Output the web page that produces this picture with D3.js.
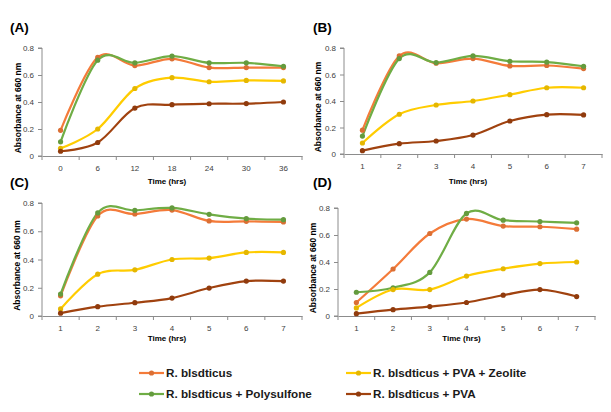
<!DOCTYPE html>
<html><head><meta charset="utf-8">
<script src="https://cdn.jsdelivr.net/npm/d3@7"></script>
<style>body{margin:0;background:#fff}svg{display:block}text{font-family:"Liberation Sans",Arial,sans-serif}</style>
</head><body><svg id="c" width="611" height="412"></svg>
<script>
const seriesNames = ["R. blsdticus", "R. blsdticus + Polysulfone", "R. blsdticus + PVA + Zeolite", "R. blsdticus + PVA"];
const seriesColors = ["#F47B3A", "#6FAD45", "#FFCC00", "#A0420F"];
const timeA = ["0","6","12","18","24","30","36"];
const timeBCD = ["1","2","3","4","5","6","7"];
const yTicks = [0, 0.2, 0.4, 0.6, 0.8];

const A_rb = [0.19, 0.73, 0.67, 0.72, 0.655, 0.655, 0.655];
const A_ps = [0.105, 0.71, 0.69, 0.74, 0.69, 0.69, 0.665];
const A_zeo = [0.057, 0.20, 0.50, 0.58, 0.55, 0.56, 0.556];
const A_pva = [0.035, 0.10, 0.355, 0.38, 0.387, 0.388, 0.40];

const B_rb = [0.18, 0.74, 0.685, 0.72, 0.665, 0.668, 0.645];
const B_ps = [0.135, 0.72, 0.69, 0.74, 0.70, 0.694, 0.662];
const B_zeo = [0.083, 0.30, 0.37, 0.40, 0.448, 0.50, 0.50];
const B_pva = [0.025, 0.078, 0.098, 0.143, 0.249, 0.297, 0.295];

const C_rb = [0.143, 0.708, 0.722, 0.75, 0.673, 0.67, 0.666];
const C_ps = [0.155, 0.73, 0.748, 0.765, 0.72, 0.69, 0.682];
const C_zeo = [0.05, 0.296, 0.327, 0.40, 0.41, 0.45, 0.45];
const C_pva = [0.02, 0.066, 0.094, 0.127, 0.198, 0.247, 0.247];

const D_rb = [0.10, 0.348, 0.611, 0.718, 0.666, 0.661, 0.643];
const D_ps = [0.176, 0.209, 0.323, 0.76, 0.71, 0.70, 0.69];
const D_zeo = [0.06, 0.196, 0.196, 0.296, 0.35, 0.388, 0.40];
const D_pva = [0.017, 0.047, 0.07, 0.10, 0.154, 0.196, 0.144];

const panels = [
  {label:"(A)", cats:timeA, data:[A_rb,A_ps,A_zeo,A_pva], x0:42, x1:302, yTop:48, yBot:156, lx:10, ly:32, ylx:18, xly:184},
  {label:"(B)", cats:timeBCD, data:[B_rb,B_ps,B_zeo,B_pva], x0:344, x1:602, yTop:48, yBot:154, lx:313, ly:32, ylx:318, xly:184},
  {label:"(C)", cats:timeBCD, data:[C_rb,C_ps,C_zeo,C_pva], x0:42, x1:302, yTop:203, yBot:316, lx:10, ly:187, ylx:17, xly:341},
  {label:"(D)", cats:timeBCD, data:[D_rb,D_ps,D_zeo,D_pva], x0:338, x1:595, yTop:208, yBot:316, lx:313, ly:187, ylx:313, xly:341}
];

const svg = d3.select("#c");
const axisCol = "#8c8c8c", txtCol = "#404040";

panels.forEach(p => {
  const g = svg.append("g");
  const x = d3.scaleBand().domain(p.cats).range([p.x0, p.x1]);
  const y = d3.scaleLinear().domain([0, 0.8]).range([p.yBot, p.yTop]);

  const ya = g.append("g").attr("transform", `translate(${p.x0},0)`)
    .call(d3.axisLeft(y).tickValues(yTicks).tickSize(4).tickPadding(4).tickFormat(d => d === 0 ? "0" : d3.format(".1f")(d)));
  ya.select(".domain").attr("stroke", axisCol).attr("d", `M-4,${p.yTop}H0V${p.yBot}H-4`);
  ya.selectAll(".tick line").attr("stroke", axisCol);
  ya.selectAll(".tick text").attr("fill", txtCol).style("font-size", "8px");

  const xa = g.append("g").attr("transform", `translate(0,${p.yBot})`)
    .call(d3.axisBottom(x).tickSize(0).tickPadding(9));
  xa.select(".domain").attr("stroke", axisCol);
  xa.selectAll(".tick text").attr("fill", txtCol).style("font-size", "8px");
  const bounds = d3.range(p.cats.length + 1).map(i => p.x0 + i * x.step());
  xa.selectAll(".bt").data(bounds).join("line").attr("class","bt")
    .attr("x1", d => d).attr("x2", d => d).attr("y1", 0).attr("y2", 4).attr("stroke", axisCol);

  const line = d3.line().x((d,i) => x(p.cats[i]) + x.bandwidth()/2).y(d => y(d)).curve(d3.curveCardinal.tension(0));
  p.data.forEach((s, si) => {
    g.append("path").datum(s).attr("d", line).attr("fill","none")
      .attr("stroke", seriesColors[si]).attr("stroke-width", 2.2);
  });
  p.data.forEach((s, si) => {
    g.selectAll(null).data(s).join("circle")
      .attr("cx", (d,i) => x(p.cats[i]) + x.bandwidth()/2).attr("cy", d => y(d)).attr("r", 2.6)
      .attr("fill", d3.color(seriesColors[si]).darker(0.3));
  });

  g.append("text").attr("x", p.lx).attr("y", p.ly).text(p.label)
    .style("font-size","13.5px").style("font-weight","bold").attr("fill","#000");
  const yc = (p.yTop + p.yBot) / 2 + 6;
  g.append("text").attr("transform", `translate(${p.ylx + 3},${yc}) rotate(-90)`)
    .attr("text-anchor","middle").text("Absorbance at 660 nm")
    .style("font-size","8.5px").style("font-weight","bold").attr("fill","#000");
  g.append("text").attr("x", (p.x0 + p.x1)/2 - 5).attr("y", p.xly).attr("text-anchor","middle")
    .text("Time (hrs)").style("font-size","8px").style("font-weight","bold").attr("fill","#000");
});

const legPos = [[139,377],[139,398],[346,377],[346,398]];
seriesNames.forEach((n, i) => {
  const [lx, ly] = legPos[i];
  const lg = svg.append("g");
  lg.append("line").attr("x1", lx).attr("x2", lx + 25).attr("y1", ly - 4).attr("y2", ly - 4)
    .attr("stroke", seriesColors[i]).attr("stroke-width", 2.2);
  lg.append("circle").attr("cx", lx + 12.5).attr("cy", ly - 4).attr("r", 2.6).attr("fill", d3.color(seriesColors[i]).darker(0.3));
  lg.append("text").attr("x", lx + 27).attr("y", ly).text(n)
    .style("font-size","11.7px").style("font-weight","bold").attr("fill","#1a1a1a");
});
</script></body></html>
